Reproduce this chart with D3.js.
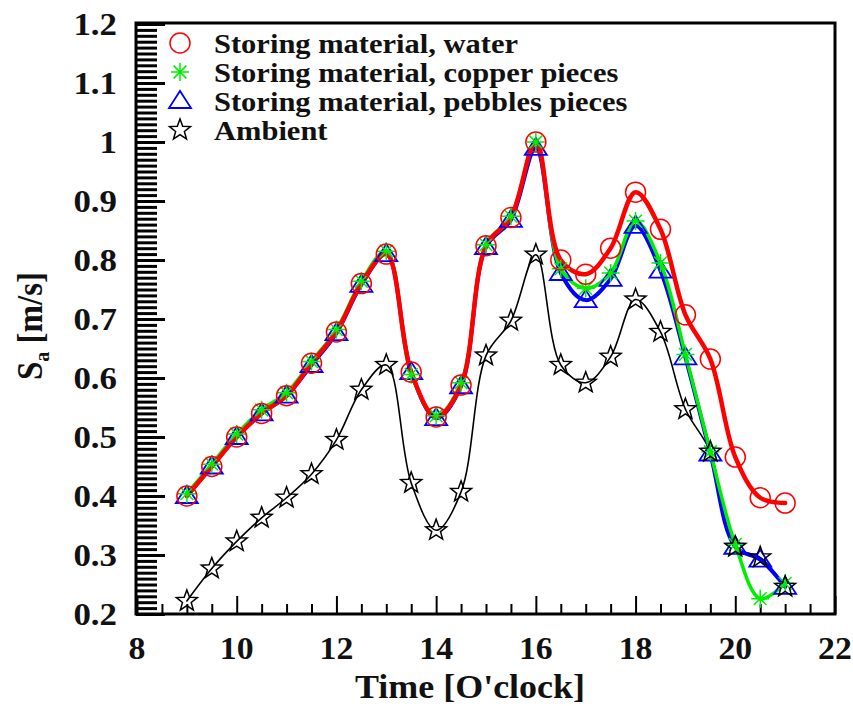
<!DOCTYPE html>
<html>
<head>
<meta charset="utf-8">
<script src="https://cdn.jsdelivr.net/npm/d3@7"></script>
<style>
  html, body { margin: 0; padding: 0; background: #ffffff; }
  svg { display: block; }
  svg text { font-family: "Liberation Serif", "Times New Roman", "DejaVu Serif", serif; font-weight: bold; }
</style>
</head>
<body>
<svg id="chart" width="853" height="706"></svg>
<script>
// Air velocity S_a [m/s] over the day, measured every half hour
const hours = [9, 9.5, 10, 10.5, 11, 11.5, 12, 12.5, 13, 13.5, 14, 14.5, 15, 15.5,
               16, 16.5, 17, 17.5, 18, 18.5, 19, 19.5, 20, 20.5, 21];

const water   = [0.40, 0.45, 0.50, 0.54, 0.57, 0.625, 0.678, 0.76, 0.81, 0.61, 0.534, 0.588,
                 0.824, 0.872, 1.00, 0.80, 0.776, 0.82, 0.915, 0.852, 0.707, 0.632, 0.466, 0.397, 0.388];
const copper  = [0.404, 0.454, 0.505, 0.546, 0.575, 0.628, 0.682, 0.764, 0.815, 0.606, 0.536, 0.592,
                 0.826, 0.874, 1.00, 0.785, 0.752, 0.778, 0.866, 0.795, 0.64, 0.475, 0.318, 0.226, 0.252];
const pebbles = [0.40, 0.45, 0.50, 0.54, 0.57, 0.622, 0.676, 0.758, 0.81, 0.61, 0.532, 0.586,
                 0.822, 0.868, 0.99, 0.778, 0.732, 0.768, 0.858, 0.782, 0.635, 0.472, 0.314, 0.292, 0.246];
const ambient = [0.222, 0.277, 0.323, 0.363, 0.397, 0.437, 0.495, 0.58, 0.622, 0.422, 0.342, 0.407,
                 0.638, 0.697, 0.809, 0.622, 0.592, 0.636, 0.733, 0.678, 0.547, 0.475, 0.314, 0.296, 0.246];

const xTickValues = [8, 10, 12, 14, 16, 18, 20, 22];
const yTickValues = [0.2, 0.3, 0.4, 0.5, 0.6, 0.7, 0.8, 0.9, 1, 1.1, 1.2];
const yTickLabels = ["0.2", "0.3", "0.4", "0.5", "0.6", "0.7", "0.8", "0.9", "1", "1.1", "1.2"];

const legendLabels = [
  "Storing material, water",
  "Storing material, copper pieces",
  "Storing material, pebbles pieces",
  "Ambient"
];

const STRETCH = 1.09;   // glyphs are drawn slightly wide
const INK = "#111111";

const svg = d3.select("#chart");

const plotLeft = 136, plotRight = 835, plotTop = 24, plotBottom = 614;
const x = d3.scaleLinear().domain([8, 22]).range([plotLeft + 1, plotRight]);
const y = d3.scaleLinear().domain([0.2, 1.2]).range([plotBottom, plotTop]);

function boldText(g, str, px, py, size, anchor, extra) {
  return g.append("text")
    .attr("transform", `translate(${px},${py}) ${extra || ""} scale(${STRETCH},1)`)
    .attr("text-anchor", anchor)
    .style("font-size", size + "px")
    .attr("fill", INK)
    .text(str);
}

// ---- ticks (inward) ----
const xMinor = d3.range(8, 22.001, 0.5).filter(v => Math.abs(v / 2 - Math.round(v / 2)) > 1e-6);
const yMinor = d3.range(20, 121, 1).map(v => v / 100).filter(v => !yTickValues.some(t => Math.abs(t - v) < 1e-6));

function styleAxis(g) {
  g.select(".domain").remove();
  g.selectAll("line").attr("stroke", "#000").attr("stroke-width", 2);
  g.selectAll("text").remove();
}

svg.append("g").attr("transform", `translate(0,${plotBottom})`)
  .call(d3.axisBottom(x).tickValues(xMinor).tickSize(-10).tickFormat(""))
  .call(styleAxis);
svg.append("g").attr("transform", `translate(0,${plotBottom})`)
  .call(d3.axisBottom(x).tickValues(xTickValues).tickSize(-18).tickFormat(""))
  .call(styleAxis);
svg.append("g").attr("transform", `translate(${plotLeft},0)`)
  .call(d3.axisLeft(y).tickValues(yMinor).tickSize(-21).tickFormat(""))
  .call(styleAxis)
  .call(g => g.selectAll("line").attr("stroke-width", 3));
svg.append("g").attr("transform", `translate(${plotLeft},0)`)
  .call(d3.axisLeft(y).tickValues(yTickValues).tickSize(-29).tickFormat(""))
  .call(styleAxis)
  .call(g => g.selectAll("line").attr("stroke-width", 3));

// ---- frame ----
svg.append("rect")
  .attr("x", plotLeft).attr("y", plotTop - 1)
  .attr("width", plotRight - plotLeft).attr("height", plotBottom - plotTop + 1)
  .attr("fill", "none").attr("stroke", "#000").attr("stroke-width", 3);

// ---- tick labels ----
const labels = svg.append("g");
xTickValues.forEach(v => boldText(labels, String(v), x(v), 659, 31, "middle"));
yTickValues.forEach((v, i) => boldText(labels, yTickLabels[i], 117, y(v) + 11, 32, "end"));

// ---- axis titles ----
boldText(svg, "Time [O'clock]", 470, 698, 33, "middle");
const yTitle = svg.append("text")
  .attr("transform", "translate(42,326) rotate(-90) scale(1,1.09)")
  .attr("text-anchor", "middle")
  .style("font-size", "33px")
  .attr("fill", INK);
yTitle.append("tspan").text("S");
yTitle.append("tspan").style("font-size", "20px").attr("dy", 6).text("a");
yTitle.append("tspan").attr("dy", -6).text(" [m/s]");

// ---- marker shapes ----
const starPath = (() => {
  const pts = [];
  for (let k = 0; k < 10; k++) {
    const r = k % 2 === 0 ? 11 : 4.6;
    const a = -Math.PI / 2 + k * Math.PI / 5;
    pts.push([r * Math.cos(a), r * Math.sin(a)]);
  }
  return "M" + pts.map(p => p[0].toFixed(2) + "," + p[1].toFixed(2)).join("L") + "Z";
})();
const trianglePath = "M-11,7L11,7L0,-10Z";
const asteriskPath = "M0,-9L0,9M-9,0L9,0M-6.4,-6.4L6.4,6.4M-6.4,6.4L6.4,-6.4";

const series = [
  { key: "ambient", values: ambient, color: "#000000", width: 1.6, shape: "star" },
  { key: "pebbles", values: pebbles, color: "#0000ff", width: 4,   shape: "triangle" },
  { key: "copper",  values: copper,  color: "#00ee00", width: 3.5, shape: "asterisk" },
  { key: "water",   values: water,   color: "#ff0000", width: 4.5, shape: "circle" }
];

function drawMarker(g, shape, color, cx, cy) {
  if (shape === "circle") {
    g.append("circle").attr("cx", cx).attr("cy", cy).attr("r", 10)
      .attr("fill", "none").attr("stroke", color).attr("stroke-width", 1.5);
  } else {
    const d = shape === "star" ? starPath : shape === "triangle" ? trianglePath : asteriskPath;
    g.append("path").attr("d", d).attr("transform", `translate(${cx},${cy})`)
      .attr("fill", "none").attr("stroke", color)
      .attr("stroke-width", shape === "triangle" ? 1.8 : 1.5)
      .attr("stroke-linejoin", "miter");
  }
}

// ---- curves ----
const line = d3.line()
  .x((d, i) => x(hours[i]))
  .y(d => y(d))
  .curve(d3.curveCatmullRom.alpha(0.5));

const plot = svg.append("g");
series.forEach(s => {
  plot.append("path")
    .datum(s.values)
    .attr("d", line)
    .attr("fill", "none")
    .attr("stroke", s.color)
    .attr("stroke-width", s.width)
    .attr("stroke-linejoin", "round")
    .attr("stroke-linecap", "round");
});

// ---- markers ----
const markerOrder = ["pebbles", "copper", "water", "ambient"];
markerOrder.forEach(k => {
  const s = series.find(t => t.key === k);
  const g = plot.append("g");
  s.values.forEach((v, i) => drawMarker(g, s.shape, s.color, x(hours[i]), y(v)));
});

// ---- legend ----
const legend = svg.append("g");
const legendShapes = [
  { shape: "circle",   color: "#ff0000" },
  { shape: "asterisk", color: "#00ee00" },
  { shape: "triangle", color: "#0000ff" },
  { shape: "star",     color: "#000000" }
];
legendLabels.forEach((lab, i) => {
  const base = 53 + i * 29;
  drawMarker(legend, legendShapes[i].shape, legendShapes[i].color, 180, base - 10);
  boldText(legend, lab, 214, base, 28, "start");
});
</script>
</body>
</html>
